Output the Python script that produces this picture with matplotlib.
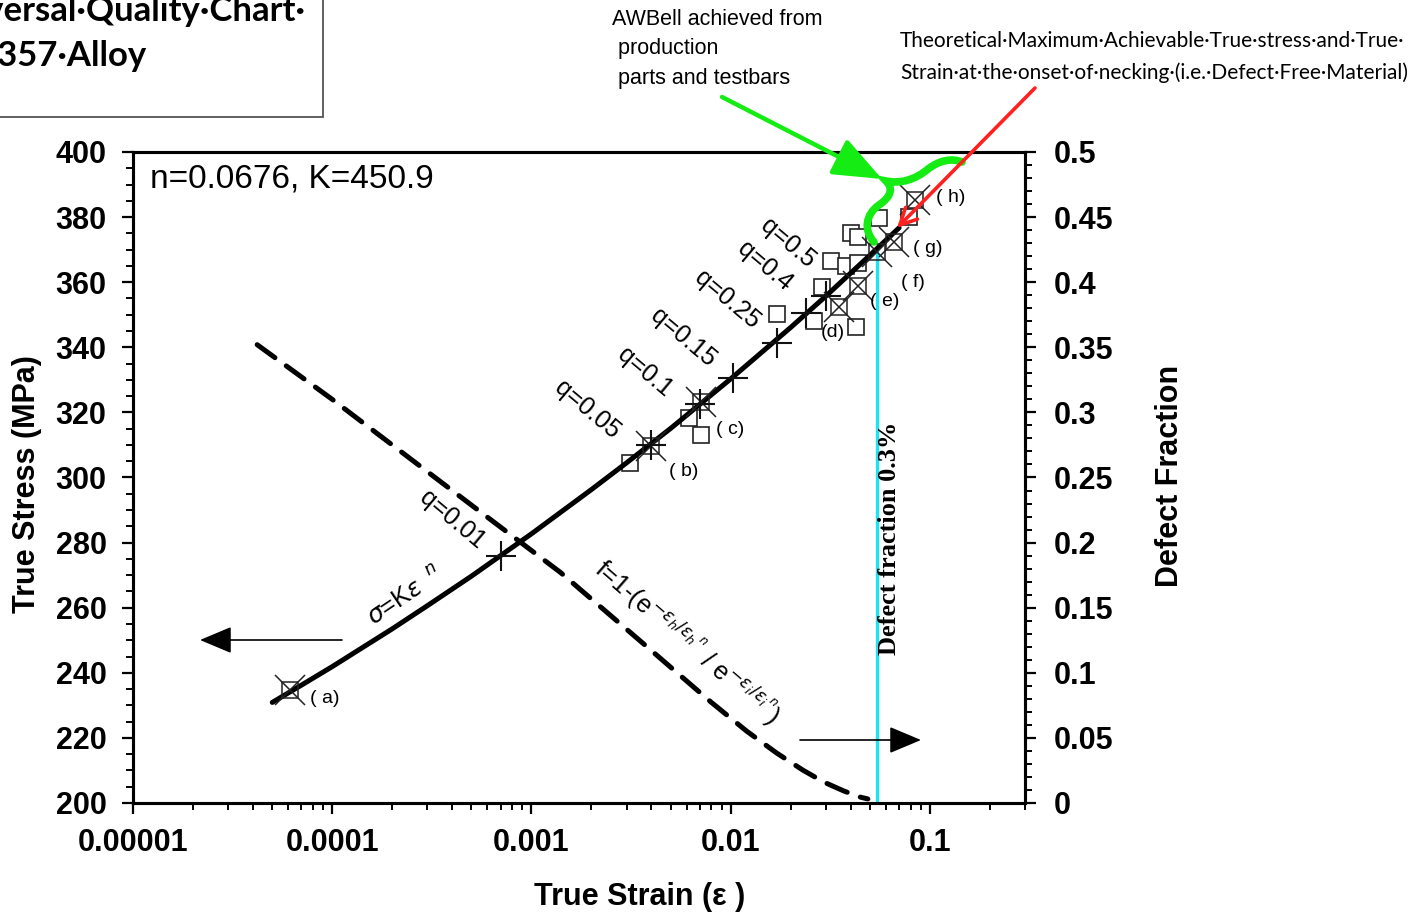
import matplotlib
matplotlib.use("Agg")
import matplotlib.pyplot as plt
from matplotlib.transforms import Affine2D
from matplotlib.path import Path
from matplotlib.patches import PathPatch, Rectangle, FancyArrowPatch
from matplotlib.ticker import FixedLocator, MultipleLocator, LogLocator, NullFormatter

W, H = 1415, 914

# sigma = K * eps^n  (n = 0.0676, K = 450.9)
curve_strain = [5e-5, 7e-5, 1e-4, 2e-4, 3e-4, 5e-4, 1e-3, 2e-3, 3e-3, 5e-3,
                1e-2, 2e-2, 3e-2, 5e-2, 7e-2]
curve_stress = [230.9, 236.2, 241.9, 253.5, 260.6, 269.7, 282.7, 296.3, 304.5, 315.1,
                330.3, 346.1, 355.7, 368.3, 376.7]

# defect fraction, right axis
defect_strain = [4.2e-5, 1e-4, 4e-4, 1.4e-3, 3.8e-3, 7.95e-3, 1.2e-2, 1.7e-2,
                 2.3e-2, 2.93e-2, 3.7e-2, 4.45e-2, 4.88e-2]
defect_frac = [0.352, 0.310, 0.240, 0.177, 0.120, 0.0776, 0.0553, 0.0384,
               0.0253, 0.0161, 0.0092, 0.0046, 0.0031]

# q points on the curve
q_labels = ["q=0.01", "q=0.05", "q=0.1", "q=0.15", "q=0.25", "q=0.4", "q=0.5"]
q_strain = [7.0e-4, 4.0e-3, 7.0e-3, 1.03e-2, 1.7e-2, 2.4e-2, 3.0e-2]
q_stress = [275.9, 310.0, 322.5, 330.7, 341.3, 350.5, 355.9]

# labelled samples (a)-(h)
sample_labels = ["( a)", "( b)", "( c)", "(d)", "( e)", "( f)", "( g)", "( h)"]
sample_strain = [6.15e-5, 4.0e-3, 7.06e-3, 0.0349, 0.0434, 0.0542, 0.066, 0.0841]
sample_stress = [234.7, 309.7, 323.2, 352.4, 358.8, 369.3, 372.4, 385.3]

# production parts and test bars
bar_strain = [3.14e-3, 6.15e-3, 7.06e-3, 0.0170, 0.0261, 0.0286, 0.0318, 0.0379,
              0.0435, 0.0401, 0.0435, 0.0425, 0.0554, 0.0784]
bar_stress = [304.5, 318.3, 313.1, 350.2, 348.1, 358.5, 366.5, 365.0,
              365.9, 375.1, 373.8, 346.2, 379.6, 379.9]

# onset of necking, defect fraction 0.3%
necking_strain = 0.0542
necking_stress = 370.2

stress_ticks = [200, 220, 240, 260, 280, 300, 320, 340, 360, 380, 400]
strain_ticks = [1e-5, 1e-4, 1e-3, 1e-2, 1e-1]
strain_tick_labels = ["0.00001", "0.0001", "0.001", "0.01", "0.1"]
defect_ticks = [0, 0.05, 0.1, 0.15, 0.2, 0.25, 0.3, 0.35, 0.4, 0.45, 0.5]
defect_tick_labels = ["0", "0.05", "0.1", "0.15", "0.2", "0.25", "0.3", "0.35", "0.4", "0.45", "0.5"]

SANS = ["Liberation Sans", "DejaVu Sans"]
plt.rcParams["font.family"] = SANS

fig = plt.figure(figsize=(W / 100, H / 100), dpi=100)
ax = fig.add_axes([133 / W, 1 - 803 / H, (1025 - 133) / W, (803 - 152) / H])
ax2 = ax.twinx()
# pixel coordinates measured from the top-left corner of the figure
PX = Affine2D().scale(1 / W, -1 / H).translate(0, 1) + fig.transFigure

ax.set_xscale("log")
ax.set_xlim(1e-5, 0.3)
ax.set_ylim(200, 400)
ax2.set_ylim(0, 0.5)

# main curve, data points
ax.plot(curve_strain, curve_stress, color="black", lw=3.6, solid_capstyle="round", zorder=4)
ax.plot(bar_strain, bar_stress, ls="none", marker="s", ms=12, mfc="white", mec="#222222",
        mew=1.2, zorder=3)
ax.plot(sample_strain, sample_stress, ls="none", marker="s", ms=12, mfc="none", mec="#222222",
        mew=1.1, zorder=5)
ax.plot(sample_strain, sample_stress, ls="none", marker="x", ms=21, mec="#222222", mew=1.1, zorder=5)
ax.plot(q_strain, q_stress, ls="none", marker="+", ms=21, mec="#111111", mew=1.5, zorder=5)

sample_offsets = [(35, 8), (32, 26), (30, 28), (-6, 26), (27, 15), (36, 31), (34, 7), (36, -2)]
for lab, x, y, (dx, dy) in zip(sample_labels, sample_strain, sample_stress, sample_offsets):
    ax.annotate(lab, (x, y), xytext=(dx * 0.72, -dy * 0.72), textcoords="offset points",
                ha="center", va="center", fontsize=14, zorder=6)

q_label_pos = [(452, 520), (587, 410), (645, 372), (683, 338), (727, 300), (765, 266), (788, 243)]
for lab, (px, py) in zip(q_labels, q_label_pos):
    fig.text(px, py, lab, transform=PX, fontsize=18, rotation=-40,
             rotation_mode="anchor", ha="center", va="center")

# necking line
ax.plot([necking_strain, necking_strain], [200, necking_stress], color="#1ee3f0", lw=2.4, zorder=2)
fig.text(889, 655, "Defect fraction 0.3%", transform=PX, rotation=90, ha="center", va="bottom",
         fontsize=19, fontweight="bold", family=["Liberation Serif", "DejaVu Serif"])

# defect fraction curve
ax2.plot(defect_strain, defect_frac, color="black", lw=3.6, dashes=(4.4, 2.8),
         dash_capstyle="round", zorder=3)

fig.text(405, 597, r"$\sigma$=K$\varepsilon^{\ \ n}$", transform=PX, rotation=34,
         rotation_mode="anchor", ha="center", va="center", fontsize=18)
fig.text(688, 642,
         r"f=1-(e$^{-\varepsilon_h / \varepsilon_h{}^{\,n}}$ / e$^{-\varepsilon_i / \varepsilon_i{}^{\,n}}$)",
         transform=PX, rotation=-41, rotation_mode="anchor", ha="center", va="center", fontsize=18)

ax.text(0.019, 0.958, "n=0.0676, K=450.9", transform=ax.transAxes, ha="left", va="center",
        fontsize=24)

# direction arrows for the two y axes
for (x0, y0), (x1, y1) in [((342, 640), (200, 640)), ((800, 740), (921, 740))]:
    fig.add_artist(FancyArrowPatch((x0, y0), (x1, y1), transform=PX,
                                   arrowstyle="-|>,head_length=20,head_width=8.4",
                                   mutation_scale=1, lw=1.2, color="black",
                                   shrinkA=0, shrinkB=0))

# axes styling
for a in (ax, ax2):
    for s in a.spines.values():
        s.set_linewidth(2.2)
ax.xaxis.set_ticks_position("bottom")
ax.yaxis.set_ticks_position("left")
ax2.yaxis.set_ticks_position("right")

ax.xaxis.set_major_locator(FixedLocator(strain_ticks))
ax.xaxis.set_minor_locator(LogLocator(base=10, subs=range(2, 10), numticks=20))
ax.xaxis.set_minor_formatter(NullFormatter())
ax.set_xticks(strain_ticks, strain_tick_labels)
ax.set_yticks(stress_ticks, [str(v) for v in stress_ticks])
ax.yaxis.set_minor_locator(MultipleLocator(5))
ax2.set_yticks(defect_ticks, defect_tick_labels)
ax2.yaxis.set_minor_locator(MultipleLocator(0.01))

ax.tick_params(axis="both", which="major", direction="out", length=8, width=1.6)
ax.tick_params(axis="both", which="minor", direction="out", length=5, width=1.4)
ax2.tick_params(axis="y", which="major", direction="out", length=8, width=1.6)
ax2.tick_params(axis="y", which="minor", direction="out", length=5, width=1.4)
ax.tick_params(axis="y", which="major", pad=11)
ax.tick_params(axis="x", which="major", pad=10)
ax2.tick_params(axis="y", which="major", pad=13)

for t in ax.get_yticklabels() + ax2.get_yticklabels():
    t.set_fontsize(22)
    t.set_fontweight("bold")
for t in ax.get_xticklabels():
    t.set_fontsize(22)
    t.set_fontweight("bold")

ax.set_ylabel("True Stress (MPa)", fontsize=22, fontweight="bold")
ax.yaxis.set_label_coords(-0.102, 0.49)
ax2.set_ylabel("Defect Fraction", fontsize=22, fontweight="bold")
ax2.yaxis.set_label_coords(1.146, 0.502)
ax.set_xlabel("True Strain (\u03b5 )", fontsize=22, fontweight="bold")
ax.xaxis.set_label_coords(0.5 + (640 - 579) / 892, -0.121)

# title box, partly outside the canvas
fig.add_artist(Rectangle((-10, -10), 333, 127, transform=PX, fill=False, lw=1.2, ec="#444444"))
fig.text(306, 21, "Universal\u00b7Quality\u00b7Chart\u00b7", transform=PX, ha="right", va="baseline",
         fontsize=25, fontweight="bold", family=["Lato", "DejaVu Sans"])
fig.text(146, 66, "A357\u00b7Alloy", transform=PX, ha="right", va="baseline",
         fontsize=25, fontweight="bold", family=["Lato", "DejaVu Sans"])

fig.text(612, 9, "AWBell achieved from\n production\n parts and testbars", transform=PX,
         ha="left", va="top", fontsize=15.5, linespacing=1.53)
fig.text(900, 31,
         "Theoretical\u00b7Maximum\u00b7Achievable\u00b7True\u00b7stress\u00b7and\u00b7True\u00b7\n"
         "Strain\u00b7at\u00b7the\u00b7onset\u00b7of\u00b7necking\u00b7(i.e.\u00b7Defect\u00b7Free\u00b7Material)",
         transform=PX, ha="left", va="top", fontsize=15, family=["Lato", "DejaVu Sans"],
         linespacing=1.7)

# green pointer and brace, red pointer
green = "#14ec14"
fig.add_artist(FancyArrowPatch((722, 97), (882, 179), transform=PX,
                               arrowstyle="-|>,head_length=30,head_width=12",
                               mutation_scale=1, lw=3.2, color=green, shrinkA=0, shrinkB=0))
brace = Path([(874, 242), (863, 230), (866, 214), (879, 205),
              (892, 196), (893, 188), (886, 181),
              (900, 184), (915, 180), (928, 169),
              (940, 160), (952, 158), (962, 162)],
             [Path.MOVETO] + [Path.CURVE4] * 12)
fig.add_artist(PathPatch(brace, transform=PX, fill=False, ec=green, lw=5.5, capstyle="round"))
fig.add_artist(FancyArrowPatch((1035, 88), (897, 228), transform=PX,
                               arrowstyle="->,head_length=12,head_width=6",
                               mutation_scale=1, lw=2.6, color="#ff2020", shrinkA=0, shrinkB=0))

fig.savefig("out.png", dpi=100)
